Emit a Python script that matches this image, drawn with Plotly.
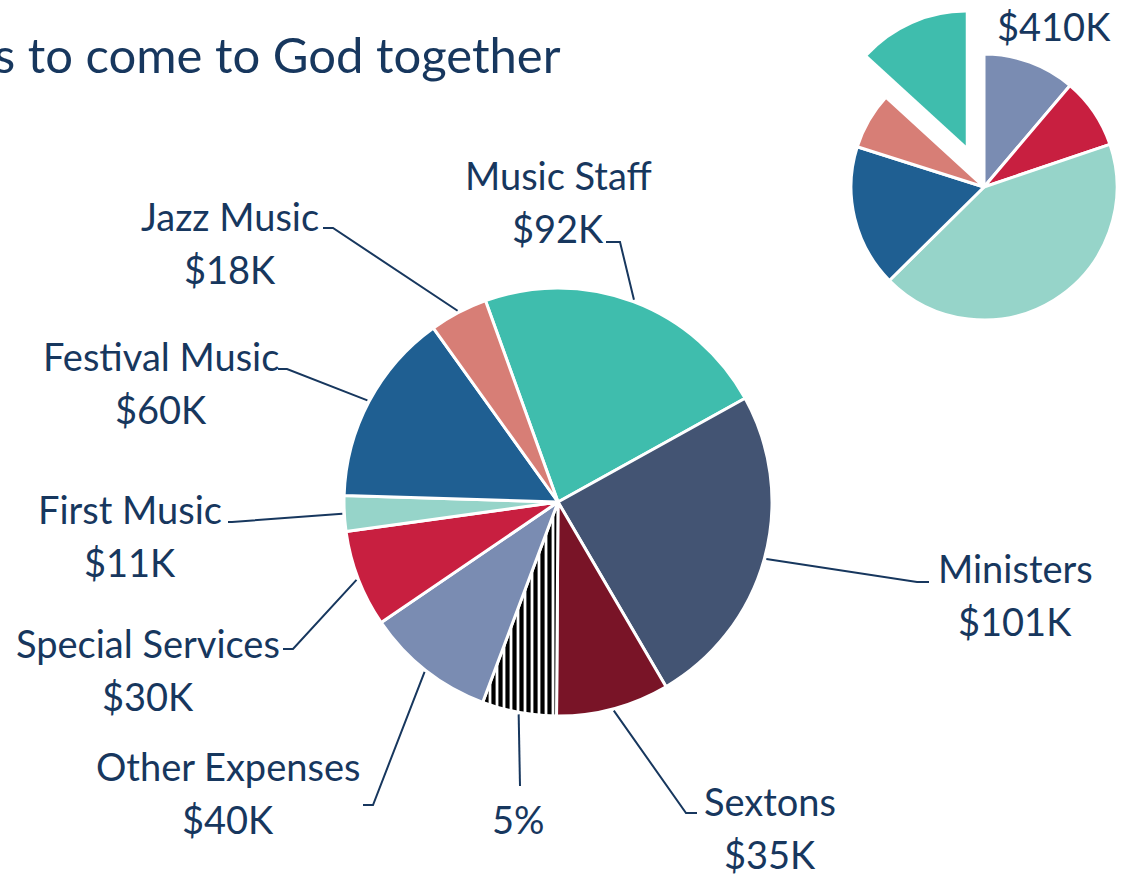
import numpy as np
import plotly.graph_objects as go

W, H = 1124, 874

# ---------------- data ----------------
categories = ["Music Staff", "Ministers", "Sextons", "Other (striped)", "Other Expenses",
              "Special Services", "First Music", "Festival Music", "Jazz Music"]
values_k = [92, 101, 35, 23, 40, 30, 11, 60, 18]
name_labels = ["Music Staff", "Ministers", "Sextons", "", "Other Expenses",
               "Special Services", "First Music", "Festival Music", "Jazz Music"]
value_labels = ["$92K", "$101K", "$35K", "5%", "$40K", "$30K", "$11K", "$60K", "$18K"]

overview_categories = ["Segment A", "Segment B", "Segment C", "Segment D", "Segment E", "Worship & Music"]
overview_share = [11.2, 8.6, 42.8, 17.3, 6.9, 13.2]
overview_label = "$410K"

title_text = "s to come to God together"

# ---------------- styles ----------------
TXT = "#17375E"
FONT = "Lato"
FS = 38
colors = ["#3FBDAD", "#435473", "#791427", "#FFFFFF", "#7A8CB2",
          "#C81F40", "#96D4C9", "#1F5F92", "#D77E76"]
patterns = ["", "", "", "|", "", "", "", "", ""]
overview_colors = ["#7A8CB2", "#C81F40", "#96D4C9", "#1F5F92", "#D77E76", "#3FBDAD"]

# main pie geometry (pixels)
MC = (558, 502)
MR = 214
ROT = -19.8

# small pie geometry (pixels)
SC = (984, 187)
SR = 133
PULL = 0.34


def px(x):
    return x / W


def py(y):
    return 1 - y / H


def dom(c, r):
    return dict(x=[px(c[0] - r), px(c[0] + r)], y=[py(c[1] + r), py(c[1] - r)])


fig = go.Figure()

fig.add_trace(go.Pie(
    labels=categories, values=values_k, sort=False, direction="clockwise",
    rotation=ROT, textinfo="none", hoverinfo="label+value",
    marker=dict(colors=colors, line=dict(color="white", width=3),
                pattern=dict(shape=patterns, fgcolor="#000000", bgcolor="#FFFFFF",
                             size=7, solidity=0.6)),
    domain=dom(MC, MR), showlegend=False,
))

# small overview pie: base (exploded slice hidden)
n = len(overview_share)
base_cols = overview_colors[:-1] + ["rgba(0,0,0,0)"]
base_w = [3] * (n - 1) + [0]
fig.add_trace(go.Pie(
    labels=overview_categories, values=overview_share, sort=False, direction="clockwise",
    rotation=0, textinfo="none", hoverinfo="skip",
    marker=dict(colors=base_cols, line=dict(color="white", width=base_w)),
    domain=dom(SC, SR), showlegend=False,
))

# exploded slice: offset along its mid-angle
tot = sum(overview_share)
mid = (np.cumsum(overview_share)[-1] - overview_share[-1] / 2) / tot * 2 * np.pi
d = PULL * SR
SC2 = (SC[0] + d * np.sin(mid), SC[1] - d * np.cos(mid))
top_cols = ["rgba(0,0,0,0)"] * (n - 1) + [overview_colors[-1]]
fig.add_trace(go.Pie(
    labels=overview_categories, values=overview_share, sort=False, direction="clockwise",
    rotation=0, textinfo="none", hoverinfo="skip",
    marker=dict(colors=top_cols, line=dict(color="white", width=0)),
    domain=dom(SC2, SR), showlegend=False,
))

# ---------------- labels & leader lines ----------------
# label centre x, first baseline y ; leader elbow and end (pixels)
label_pos = [(558, 189), (1015, 582), (770, 815), (518, 833), (228, 780),
             (148, 657), (130, 523), (161, 370), (230, 230)]
leader_pts = [((620, 242), (606, 242)), ((917, 582), (929, 582)), ((686, 813), (697, 813)),
              ((520, 786), (520, 786)), ((373, 805), (363, 805)), ((293, 649), (283, 649)),
              ((232, 522), (228, 522)), ((287, 369), (278, 369)), ((333, 228), (323, 228))]
LINE_GAP = 53
BASE_SHIFT = 14

total = sum(values_k)
cum = np.cumsum(values_k)
annotations = []
shapes = []
for i in range(len(values_k)):
    mid_deg = ROT + (cum[i] - values_k[i] / 2) / total * 360
    a = np.deg2rad(mid_deg)
    sx = MC[0] + (MR + 2) * np.sin(a)
    sy = MC[1] - (MR + 2) * np.cos(a)
    (ex, ey), (fx, fy) = leader_pts[i]
    path = f"M {px(sx)},{py(sy)} L {px(ex)},{py(ey)} L {px(fx)},{py(fy)}"
    shapes.append(dict(type="path", xref="paper", yref="paper", path=path,
                       line=dict(color=TXT, width=2)))
    cx, b1 = label_pos[i]
    lines = [t for t in (name_labels[i], value_labels[i]) if t]
    for k, t in enumerate(lines):
        annotations.append(dict(text=t, x=px(cx), y=py(b1 + k * LINE_GAP - BASE_SHIFT),
                                xref="paper", yref="paper", xanchor="center", yanchor="middle",
                                showarrow=False, font=dict(family=FONT, size=FS, color=TXT)))

annotations.append(dict(text=overview_label, x=px(1054), y=py(40 - BASE_SHIFT), xref="paper",
                        yref="paper", xanchor="center", yanchor="middle", showarrow=False,
                        font=dict(family=FONT, size=FS, color=TXT)))
annotations.append(dict(text=title_text, x=px(563), y=py(72 - 18), xref="paper", yref="paper",
                        xanchor="right", yanchor="middle", showarrow=False,
                        font=dict(family=FONT, size=49, color=TXT)))

fig.update_layout(width=W, height=H, margin=dict(l=0, r=0, t=0, b=0),
                  paper_bgcolor="white", plot_bgcolor="white",
                  annotations=annotations, shapes=shapes)

fig.write_html("out.html", config={"displayModeBar": False},
               post_script="document.body.style.margin='0';")
